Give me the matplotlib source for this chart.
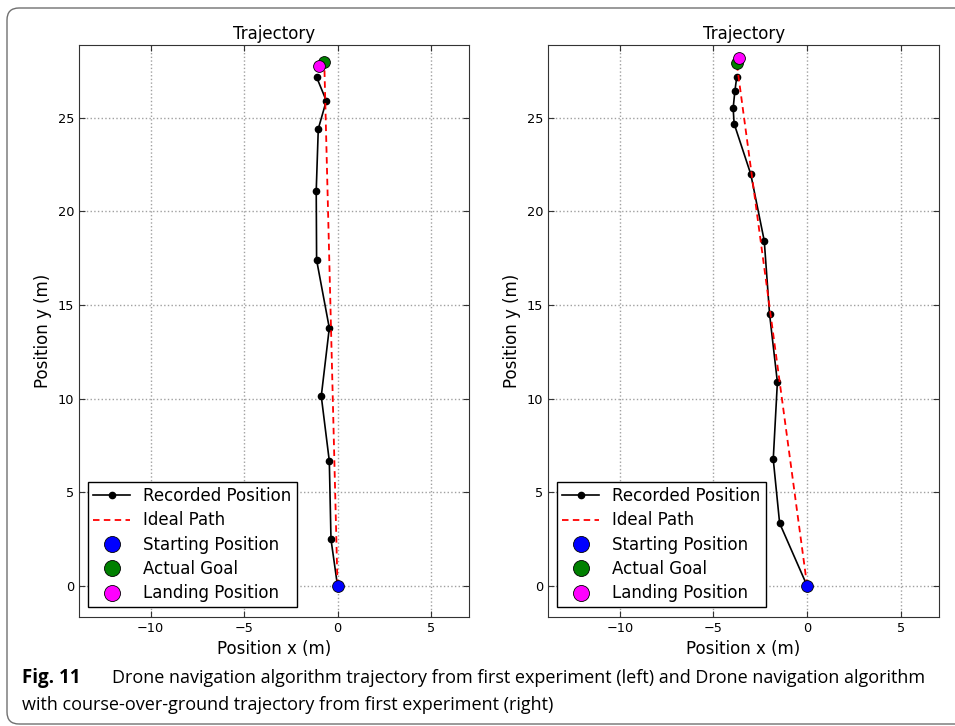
import matplotlib
matplotlib.use("Agg")
import matplotlib.pyplot as plt
from matplotlib.patches import FancyBboxPatch

# Left experiment: recorded drone positions (m)
left_rec_x = [0.0, -0.35, -0.44, -0.87, -0.44, -1.12, -1.14, -1.03, -0.60, -1.12]
left_rec_y = [0.0, 2.49, 6.67, 10.13, 13.77, 17.4, 21.1, 24.4, 25.9, 27.16]
left_start = (0.0, 0.0)
left_goal = (-0.71, 27.99)
left_land = (-0.98, 27.78)

# Right experiment (course-over-ground)
right_rec_x = [0.0, -1.47, -1.81, -1.59, -2.01, -2.29, -3.01, -3.90, -3.95, -3.86, -3.76]
right_rec_y = [0.0, 3.35, 6.76, 10.88, 14.54, 18.42, 21.98, 24.68, 25.5, 26.41, 27.16]
right_start = (0.0, 0.0)
right_goal = (-3.76, 27.9)
right_land = (-3.66, 28.17)

xticks = [-10, -5, 0, 5]
yticks = [0, 5, 10, 15, 20, 25]

fig = plt.figure(figsize=(9.55, 7.26), dpi=100)

# rounded frame around the figure
frame = FancyBboxPatch((7, 2), 1100, 716, boxstyle="round,pad=0,rounding_size=12",
                       transform=None, facecolor="none", edgecolor="#707070", lw=1.0)
fig.patches.append(frame)


def draw_panel(ax, rx, ry, start, goal, land):
    ax.plot(rx, ry, color="k", lw=1.2, marker="o", markersize=4.5, label="Recorded Position")
    ax.plot([start[0], goal[0]], [start[1], goal[1]], color="r", lw=1.3,
            linestyle="--", dashes=(3.6, 2.4), label="Ideal Path")
    ax.plot(start[0], start[1], "o", color="#0000ff", mec="k", mew=0.6, markersize=8.5,
            label="Starting Position")
    ax.plot(goal[0], goal[1], "o", color="#008000", mec="k", mew=0.6, markersize=8.5,
            label="Actual Goal")
    ax.plot(land[0], land[1], "o", color="#ff00ff", mec="k", mew=0.6, markersize=8.5,
            label="Landing Position")

    ax.set_xlim(-13.82, 7.03)
    ax.set_ylim(-1.64, 28.9)
    ax.set_xticks(xticks)
    ax.set_yticks(yticks)
    ax.grid(True, color="#a0a0a0", linestyle=":", lw=1.0)
    ax.tick_params(direction="in", top=True, right=True, labelsize=9.3, length=4, color="#333333")
    for sp in ax.spines.values():
        sp.set_color("#333333")
    ax.set_title("Trajectory", fontsize=12, pad=4)
    ax.set_xlabel("Position x (m)", fontsize=12)
    ax.set_ylabel("Position y (m)", fontsize=12)

    leg = ax.legend(loc="lower left", fontsize=12, fancybox=False, edgecolor="k",
                    framealpha=1, handlelength=2.2, borderpad=0.3, labelspacing=0.38,
                    numpoints=1, borderaxespad=0.55)
    leg.get_frame().set_linewidth(1.0)
    for h in leg.legend_handles[2:]:
        h.set_markersize(11.5)


ax1 = fig.add_axes([0.0830, 0.1506, 0.408, 0.788])
draw_panel(ax1, left_rec_x, left_rec_y, left_start, left_goal, left_land)

ax2 = fig.add_axes([0.5741, 0.1506, 0.409, 0.788])
draw_panel(ax2, right_rec_x, right_rec_y, right_start, right_goal, right_land)

cap_font = ["Open Sans", "DejaVu Sans"]
fig.text(22 / 955, 1 - 678 / 726, "Fig. 11", fontsize=13.5, fontweight="bold",
         family=cap_font, va="center", ha="left")
fig.text(112 / 955, 1 - 678 / 726,
         "Drone navigation algorithm trajectory from first experiment (left) and Drone navigation algorithm",
         fontsize=13, family=cap_font, va="center", ha="left")
fig.text(22 / 955, 1 - 705 / 726,
         "with course-over-ground trajectory from first experiment (right)",
         fontsize=13, family=cap_font, va="center", ha="left")

fig.savefig("out.png", dpi=100)
